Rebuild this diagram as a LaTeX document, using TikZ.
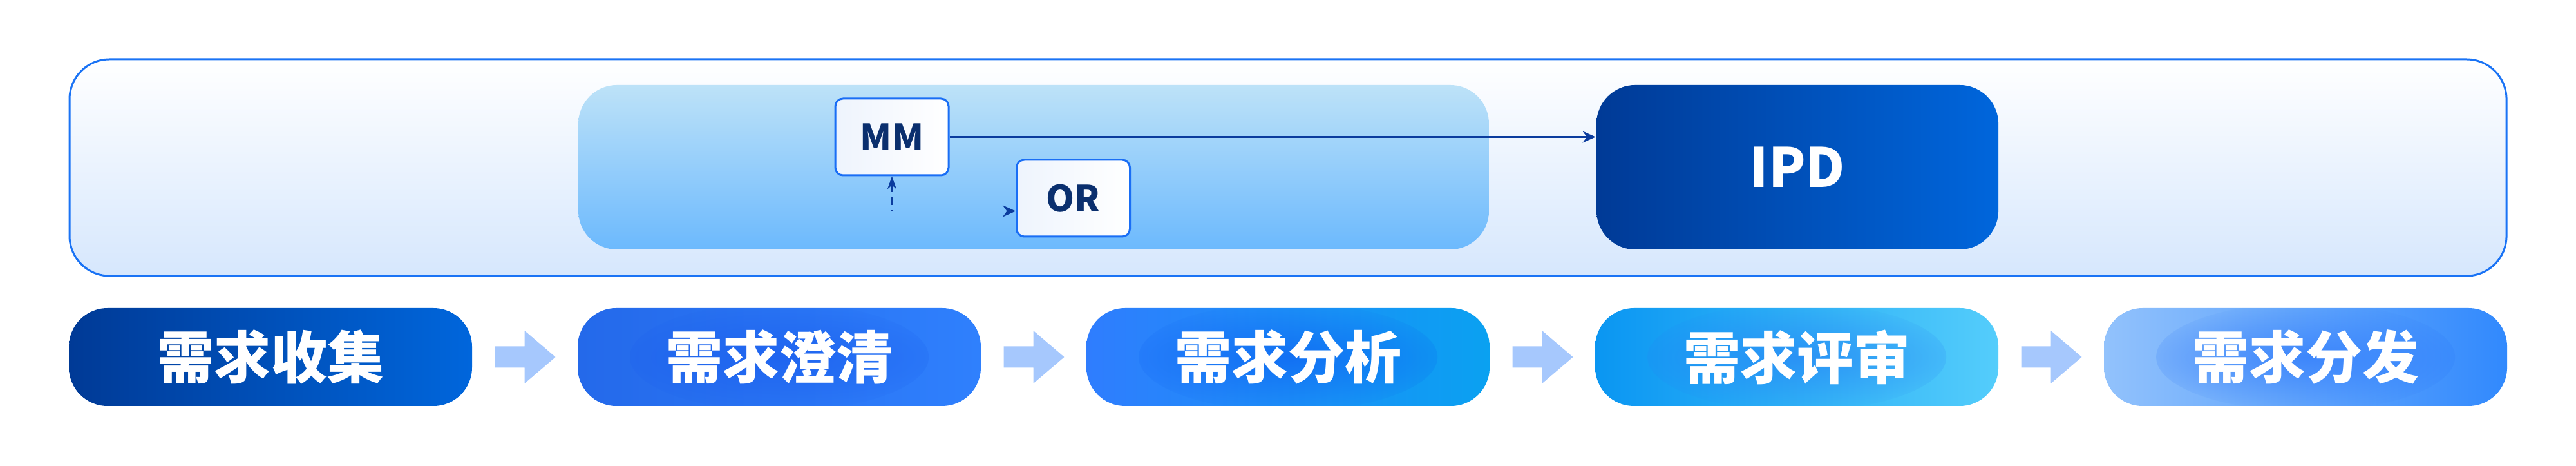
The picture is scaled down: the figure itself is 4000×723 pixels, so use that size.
\documentclass[tikz,border=0pt]{standalone}
\usepackage{fontspec}
\setmainfont{Noto Sans CJK SC}
\usetikzlibrary{arrows.meta,fadings,calc}

\definecolor{navy}{HTML}{003A96}
\definecolor{royal}{HTML}{0066DC}
\definecolor{frameblue}{HTML}{1A73F5}
\definecolor{framebot}{HTML}{D6E7FD}
\definecolor{lanetop}{HTML}{BDE2F8}
\definecolor{lanebot}{HTML}{6CB9FD}
\definecolor{linkblue}{HTML}{0B3C9E}
\definecolor{tagtext}{HTML}{0A2F6E}
\definecolor{tagfill}{HTML}{EEF4FD}
\definecolor{tagline}{HTML}{1A6EF5}
\definecolor{arrowblue}{HTML}{A6C8FD}
% stage colours: left / right / glow
\definecolor{clarL}{HTML}{2469EA}\definecolor{clarR}{HTML}{2F80FD}\definecolor{clarG}{HTML}{1A5CEE}
\definecolor{analL}{HTML}{2F7DFE}\definecolor{analR}{HTML}{0AA1F1}\definecolor{analG}{HTML}{0D60F2}
\definecolor{revL}{HTML}{0A96F2}\definecolor{revR}{HTML}{54CDFB}\definecolor{revG}{HTML}{2882F5}
\definecolor{distL}{HTML}{92C2FC}\definecolor{distR}{HTML}{3189FD}\definecolor{distG}{HTML}{2B76FB}

\tikzset{every picture/.style={line width=0.75pt}}
\tikzfading[name=glowfade, inner color=transparent!35, outer color=transparent!100]

\begin{document}
\begin{tikzpicture}[x=0.25pt,y=0.25pt,yscale=-1,xscale=1,
  stage/.style={rounded corners=15pt, minimum width=156.5pt, minimum height=38pt, inner sep=0pt, text=white, font=\fontsize{22}{26}\selectfont\bfseries},
  glow/.style={path picture={\fill[#1, path fading=glowfade] (path picture bounding box.center) ellipse [x radius=58pt, y radius=21pt];}},
  tag/.style={draw=tagline, left color=tagfill, right color=white, rounded corners=3pt, minimum width=44pt, minimum height=29.75pt, inner sep=0pt, text=tagtext, font=\fontsize{14}{16}\selectfont\bfseries},
  link/.style={draw=linkblue, line width=0.6pt}]
%set diagram size 4000 x 723
\path[use as bounding box] (0,0) rectangle (4000,723);

%Rounded Rect [frame]
\node (frame) at (2000,260) [draw=frameblue, top color=white, bottom color=framebot, rounded corners=15.5pt, minimum width=946pt, minimum height=84pt, inner sep=0pt] {};
%Rounded Rect [lane]
\node (lane) at (1605,259.5) [top color=lanetop, bottom color=lanebot, rounded corners=15pt, minimum width=353.5pt, minimum height=63.75pt, inner sep=0pt] {};
%Rounded Rect [IPD]
\node (ipd) at (2791,259.5) [left color=navy, right color=royal, rounded corners=15pt, minimum width=156pt, minimum height=63.75pt, inner sep=0pt, text=white, font=\fontsize{21}{25}\selectfont\bfseries] {IPD};

% Text Node
\node (mm) at (1385,212.5) [tag] {MM};
% Text Node
\node (or) at (1666.5,307.5) [tag] {OR};

%Straight Lines
\draw [link, -{Stealth[length=5pt,width=4.5pt]}] (mm.east) -- (mm.east -| ipd.west);
%Dashed Lines
\draw [link, line width=0.45pt, dash pattern=on 3pt off 2pt, {Stealth[length=5pt,width=3.5pt]}-{Stealth[length=5pt,width=4.5pt]}] (mm.south) |- ([yshift=5pt]or.west);

%Stages
\node (s1) at (420,554) [stage, left color=navy, right color=royal] {需求收集};
\node (s2) at (1210,554) [stage, left color=clarL, right color=clarR, glow=clarG] {需求澄清};
\node (s3) at (2000,554) [stage, left color=analL, right color=analR, glow=analG] {需求分析};
\node (s4) at (2790,554) [stage, left color=revL, right color=revR, glow=revG] {需求评审};
\node (s5) at (3580,554) [stage, left color=distL, right color=distR, glow=distG] {需求分发};

%Block Arrows
\foreach \a/\b in {s1/s2,s2/s3,s3/s4,s4/s5}
  \fill [arrowblue] ($(\a.east)+(34,-16.5)$) -- ++(46,0) -- ++(0,-24.5) -- ($(\b.west)+(-33,0)$) -- ($(\a.east)+(80,41)$) -- ++(0,-24.5) -- ($(\a.east)+(34,16.5)$) -- cycle;

\end{tikzpicture}
\end{document}
